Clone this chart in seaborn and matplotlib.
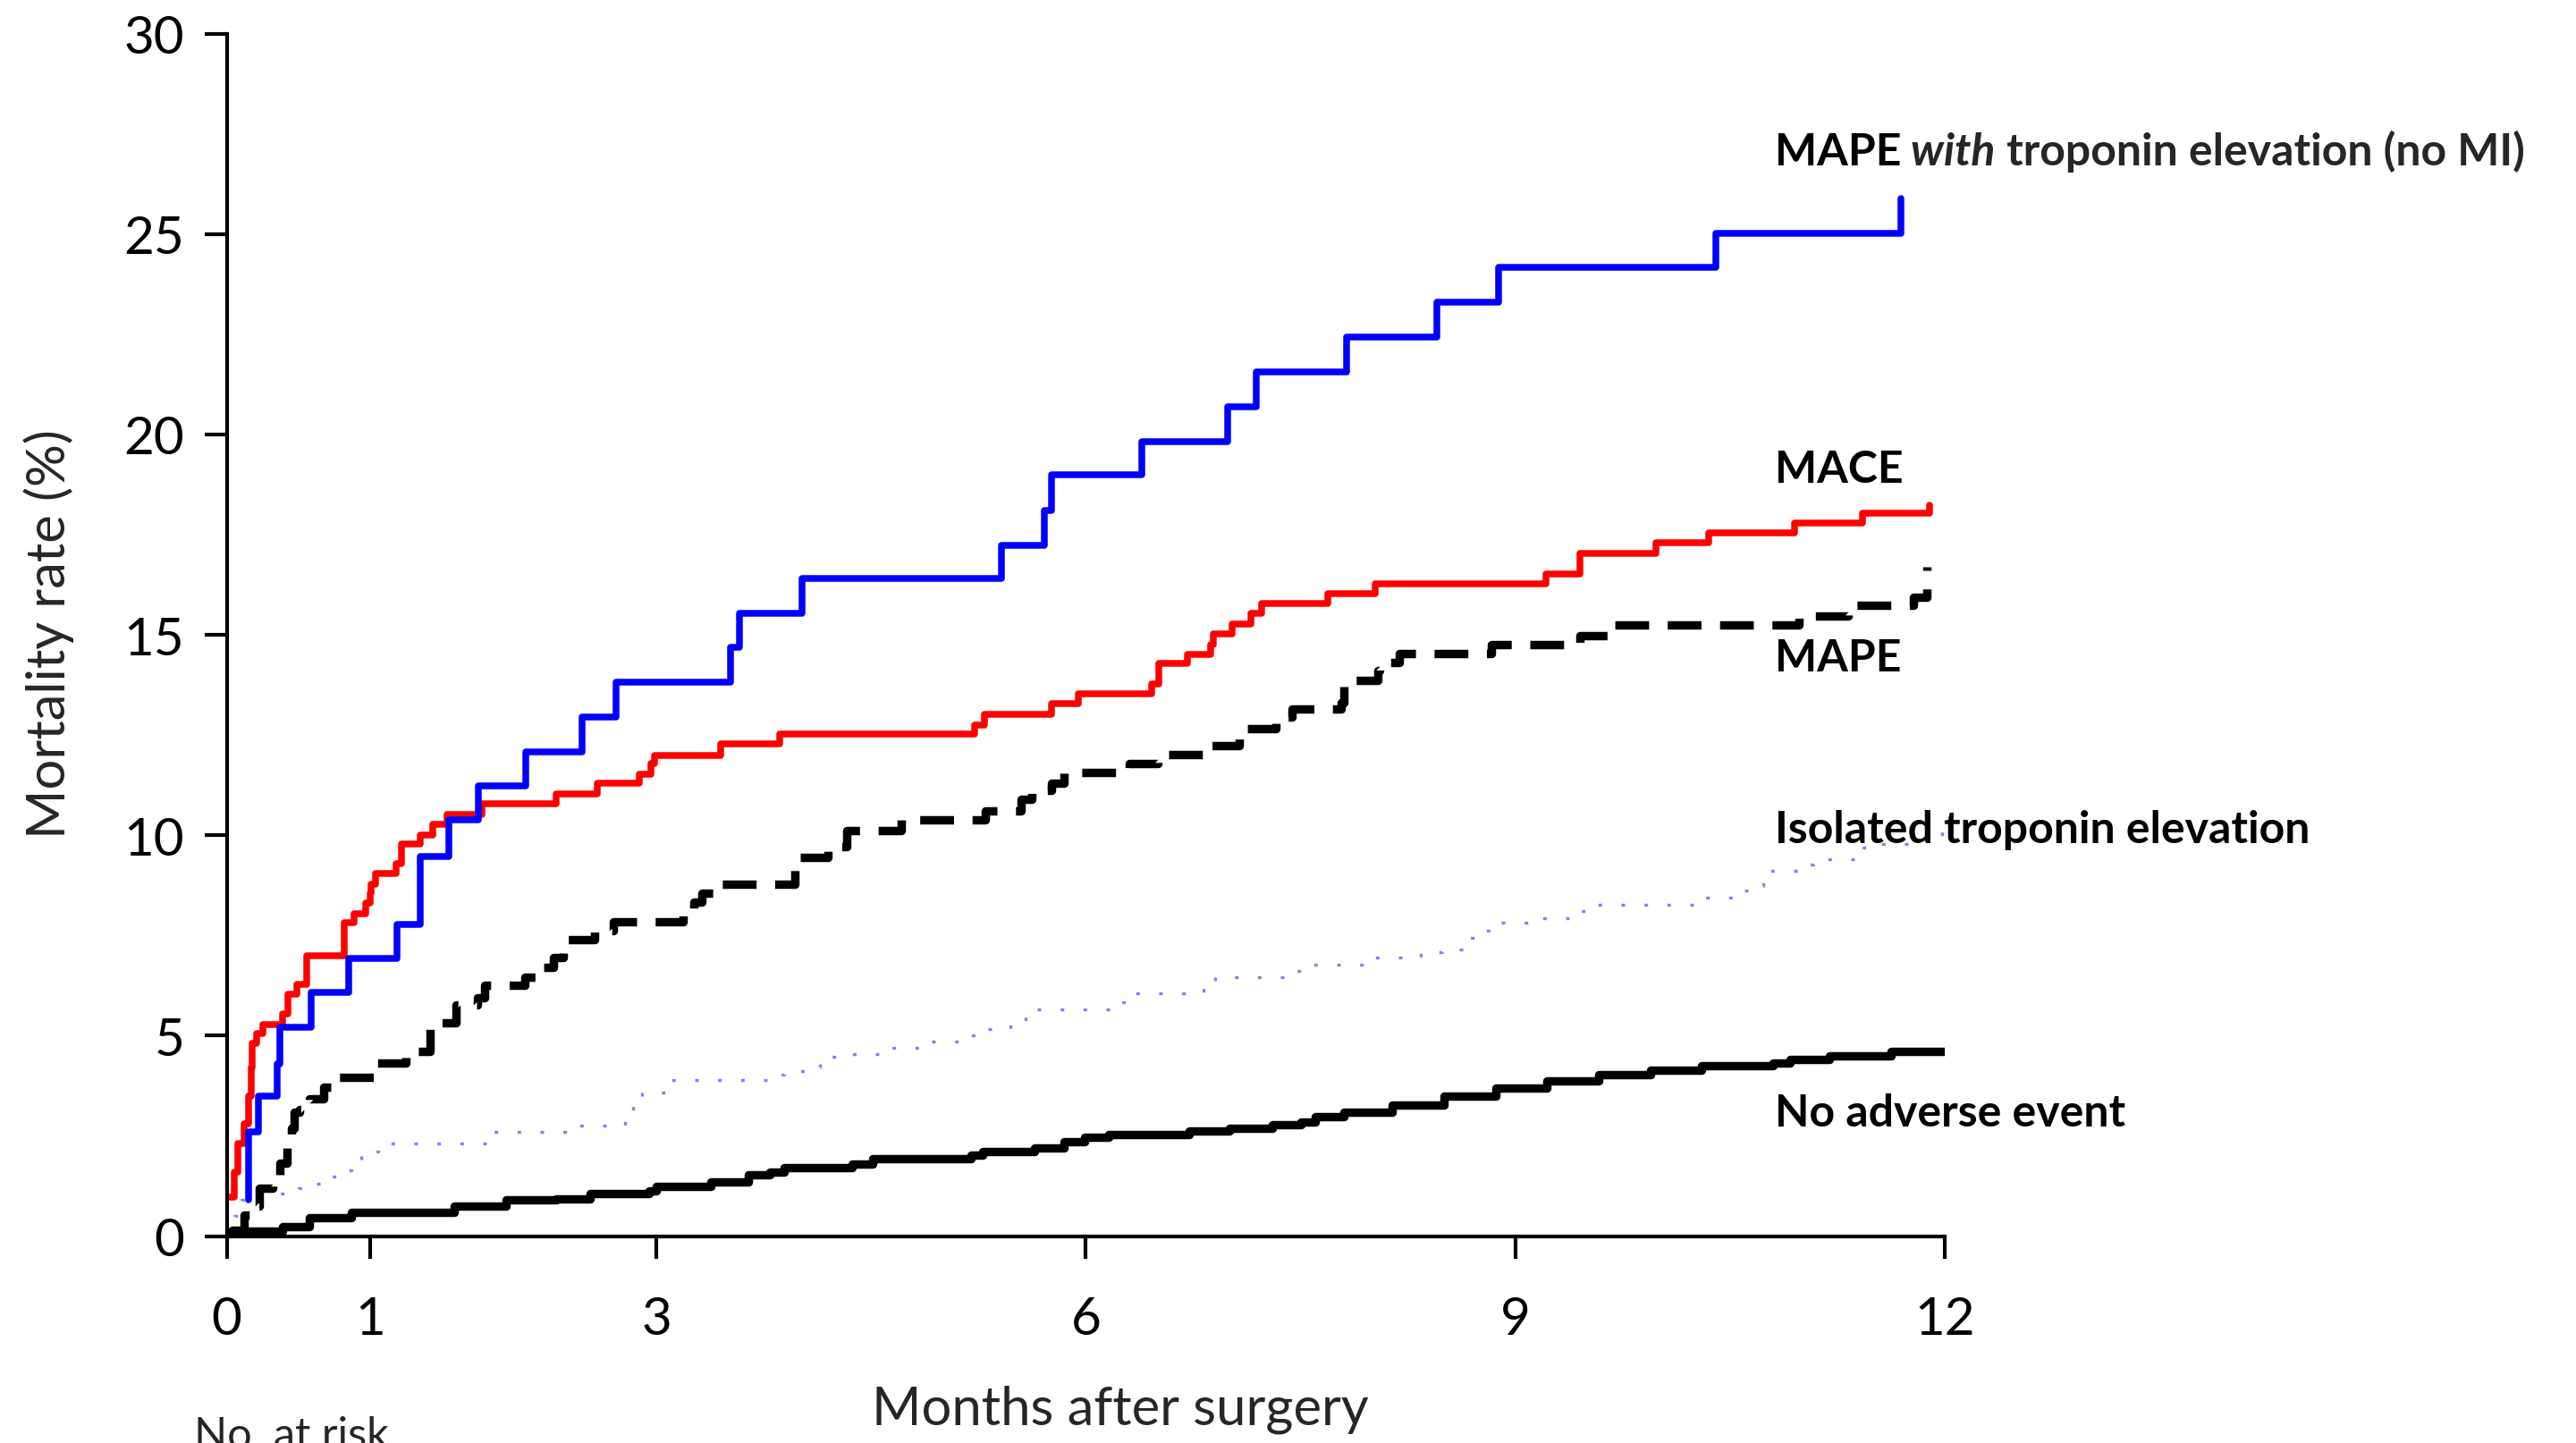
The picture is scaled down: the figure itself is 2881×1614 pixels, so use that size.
import matplotlib
matplotlib.use("Agg")
import matplotlib.pyplot as plt
import seaborn as sns
import pandas as pd

# Kaplan-Meier style cumulative mortality (%), step values
mape_trop_months = [0.15, 0.155, 0.22, 0.35, 0.37, 0.59, 0.85, 1.19, 1.35, 1.55, 1.755, 2.09,
                    2.48, 2.72, 3.52, 3.58, 4.02, 5.41, 5.71, 5.76, 6.39, 6.99, 7.19, 7.82,
                    8.45, 8.88, 10.40, 11.69]
mape_trop_rate = [0.9, 2.6, 3.5, 4.3, 5.2, 6.07, 6.93, 7.77, 9.48, 10.38, 11.23, 12.08,
                  12.94, 13.83, 14.69, 15.54, 16.4, 17.24, 18.1, 19.0, 19.83, 20.7, 21.55, 22.43,
                  23.3, 24.17, 25.02, 25.88]

mace_months = [0.02, 0.05, 0.08, 0.12, 0.155, 0.17, 0.18, 0.21, 0.25, 0.39, 0.43, 0.49, 0.56,
               0.82, 0.89, 0.97, 1.0, 1.01, 1.04, 1.18, 1.22, 1.35, 1.44, 1.54, 1.78, 2.30,
               2.59, 2.88, 2.96, 2.99, 3.45, 3.86, 5.22, 5.29, 5.76, 5.95, 6.46, 6.51, 6.71,
               6.87, 6.89, 7.02, 7.15, 7.23, 7.69, 8.02, 9.21, 9.45, 9.98, 10.35, 10.95,
               11.42, 11.89]
mace_rate = [0.97, 1.6, 2.3, 2.8, 3.5, 4.2, 4.8, 5.06, 5.28, 5.54, 6.03, 6.29, 7.0,
             7.82, 8.04, 8.32, 8.56, 8.78, 9.04, 9.30, 9.78, 10.0, 10.27, 10.52, 10.78, 11.04,
             11.3, 11.53, 11.78, 12.0, 12.27, 12.53, 12.75, 13.02, 13.28, 13.54, 13.77, 14.28, 14.52,
             14.76, 15.02, 15.28, 15.53, 15.78, 16.03, 16.27, 16.51, 17.03, 17.29, 17.55, 17.79,
             18.03, 18.23]

mape_months = [0.03, 0.12, 0.2, 0.23, 0.32, 0.37, 0.42, 0.45, 0.47, 0.51, 0.58, 0.68, 0.78,
               1.05, 1.25, 1.42, 1.6, 1.75, 1.8, 2.08, 2.21, 2.28, 2.35, 2.57, 2.70, 3.19,
               3.26, 3.32, 3.45, 3.97, 4.2, 4.33, 4.71, 5.30, 5.55, 5.62, 5.76, 5.85, 6.25,
               6.3, 6.5, 6.84, 7.07, 7.33, 7.44, 7.78, 7.8, 7.82, 8.04, 8.05, 8.19, 8.83,
               9.45, 9.68, 10.98, 11.32, 11.78, 11.87]
mape_rate = [0.15, 0.52, 0.75, 1.2, 1.42, 1.83, 2.38, 2.68, 3.1, 3.16, 3.43, 3.72, 3.95,
             4.32, 4.61, 5.32, 5.77, 5.95, 6.25, 6.47, 6.7, 6.95, 7.4, 7.62, 7.85, 8.0,
             8.33, 8.56, 8.78, 9.45, 9.71, 10.12, 10.38, 10.6, 10.9, 11.12, 11.3, 11.57, 11.64,
             11.79, 12.01, 12.24, 12.65, 12.94, 13.16, 13.31, 13.72, 13.87, 14.1, 14.32, 14.54, 14.75,
             14.99, 15.25, 15.47, 15.73, 15.94, 16.7]

trop_months = [0.0, 0.05, 0.1, 0.15, 0.5, 0.61, 0.7, 0.81, 0.87, 0.94, 1.06, 1.85, 2.4, 2.78,
               2.84, 2.9, 3.1, 3.79, 3.89, 4.04, 4.14, 4.22, 4.38, 4.63, 4.88, 5.13, 5.23,
               5.47, 5.58, 5.66, 6.22, 6.28, 6.82, 6.9, 7.46, 7.55, 7.95, 8.34, 8.49, 8.68,
               8.79, 8.86, 9.13, 9.38, 9.49, 10.31, 10.55, 10.67, 10.73, 10.98, 11.08, 11.43,
               11.55, 11.82, 11.98]
trop_rate = [0.1, 0.5, 0.9, 1.06, 1.2, 1.31, 1.49, 1.64, 1.83, 2.12, 2.31, 2.61, 2.75, 2.9,
             3.27, 3.58, 3.9, 4.03, 4.11, 4.21, 4.39, 4.47, 4.54, 4.69, 4.86, 5.02, 5.17,
             5.34, 5.5, 5.65, 5.84, 6.06, 6.27, 6.47, 6.62, 6.78, 6.95, 7.08, 7.14, 7.44,
             7.62, 7.81, 7.92, 8.11, 8.26, 8.44, 8.63, 8.73, 9.11, 9.26, 9.41, 9.7,
             9.78, 9.89, 10.1]

none_months = [0.0, 0.03, 0.39, 0.58, 0.87, 1.59, 1.95, 2.3, 2.54, 2.95, 3.0, 3.38, 3.64,
               3.79, 3.89, 4.37, 4.51, 5.2, 5.28, 5.64, 5.85, 5.99, 6.16, 6.72, 7.0, 7.3,
               7.5, 7.6, 7.8, 8.14, 8.5, 8.86, 9.22, 9.58, 9.94, 10.3, 10.8, 10.92, 11.19,
               11.62, 12.0]
none_rate = [0.05, 0.12, 0.23, 0.45, 0.6, 0.75, 0.9, 0.93, 1.05, 1.12, 1.25, 1.35, 1.52,
             1.6, 1.71, 1.79, 1.94, 2.03, 2.12, 2.2, 2.35, 2.47, 2.53, 2.63, 2.68, 2.78,
             2.85, 2.98, 3.1, 3.27, 3.5, 3.69, 3.87, 4.02, 4.13, 4.24, 4.32, 4.4, 4.5,
             4.61, 4.61]

x_ticks = [0, 1, 3, 6, 9, 12]
y_ticks = [0, 5, 10, 15, 20, 25, 30]

sns.set_theme(style="ticks")
plt.rcParams['font.family'] = ['Lato', 'DejaVu Sans']
plt.rcParams['axes.linewidth'] = 1.5

fig = plt.figure(figsize=(14.405, 8.075), dpi=200)
ax = fig.add_axes([0.088, 0.1433, 0.6671, 0.8328])

curves = [
    (trop_months, trop_rate, dict(color="#6a6aff", lw=1.2, dashes=(1.2, 6.5), alpha=0.85)),
    (none_months, none_rate, dict(color="black", lw=3.4, solid_capstyle="butt")),
    (mape_months, mape_rate, dict(color="black", lw=3.4, dashes=(4.0, 2.2), dash_capstyle="butt")),
    (mace_months, mace_rate, dict(color="#ff0000", lw=2.7)),
    (mape_trop_months, mape_trop_rate, dict(color="#0000ff", lw=2.7)),
]
for months, rate, style in curves:
    df = pd.DataFrame({"month": months, "rate": rate})
    sns.lineplot(data=df, x="month", y="rate", ax=ax, estimator=None, sort=False,
                 drawstyle="steps-post", **style)

ax.set_xlim(0, 12)
ax.set_ylim(0, 30)
ax.set_xticks(x_ticks)
ax.set_yticks(y_ticks)
ax.set_xlabel("")
ax.set_ylabel("")
ax.tick_params(axis="both", labelsize=21, width=1.5, length=9, color="black", labelcolor="black")
ax.tick_params(axis="x", pad=15)
ax.tick_params(axis="y", pad=8)
sns.despine(ax=ax)
for s in ["left", "bottom"]:
    ax.spines[s].set_color("black")

# series labels on the right
lab_x = 10.81
fs_lab = 18
lab_kw = dict(fontsize=fs_lab, fontweight="bold", color="black", va="center", ha="left", clip_on=False)
t1 = ax.text(lab_x, 27.05, "MAPE", **lab_kw)
t2 = ax.annotate(" with", xy=(1, 0), xycoords=t1, va="bottom", ha="left", fontsize=fs_lab,
                 fontweight="bold", fontstyle="italic", annotation_clip=False)
ax.annotate(" troponin elevation (no MI)", xy=(1, 0), xycoords=t2, va="bottom", ha="left",
            fontsize=fs_lab, fontweight="bold", annotation_clip=False)
ax.text(lab_x, 19.14, "MACE", **lab_kw)
ax.text(lab_x, 14.43, "MAPE", **lab_kw)
ax.text(lab_x, 10.16, "Isolated troponin elevation", **lab_kw)
ax.text(lab_x, 3.07, "No adverse event", **lab_kw)

fig.text(0.0191, 0.5609, "Mortality rate (%)", rotation=90, ha="center", va="center", fontsize=21.5)
fig.text(0.435, 0.0235, "Months after surgery", ha="center", va="center", fontsize=21.5)
fig.text(0.0753, 0.0193, "No. at risk", ha="left", va="top", fontsize=17.5)

fig.savefig("out.png", dpi=200)
